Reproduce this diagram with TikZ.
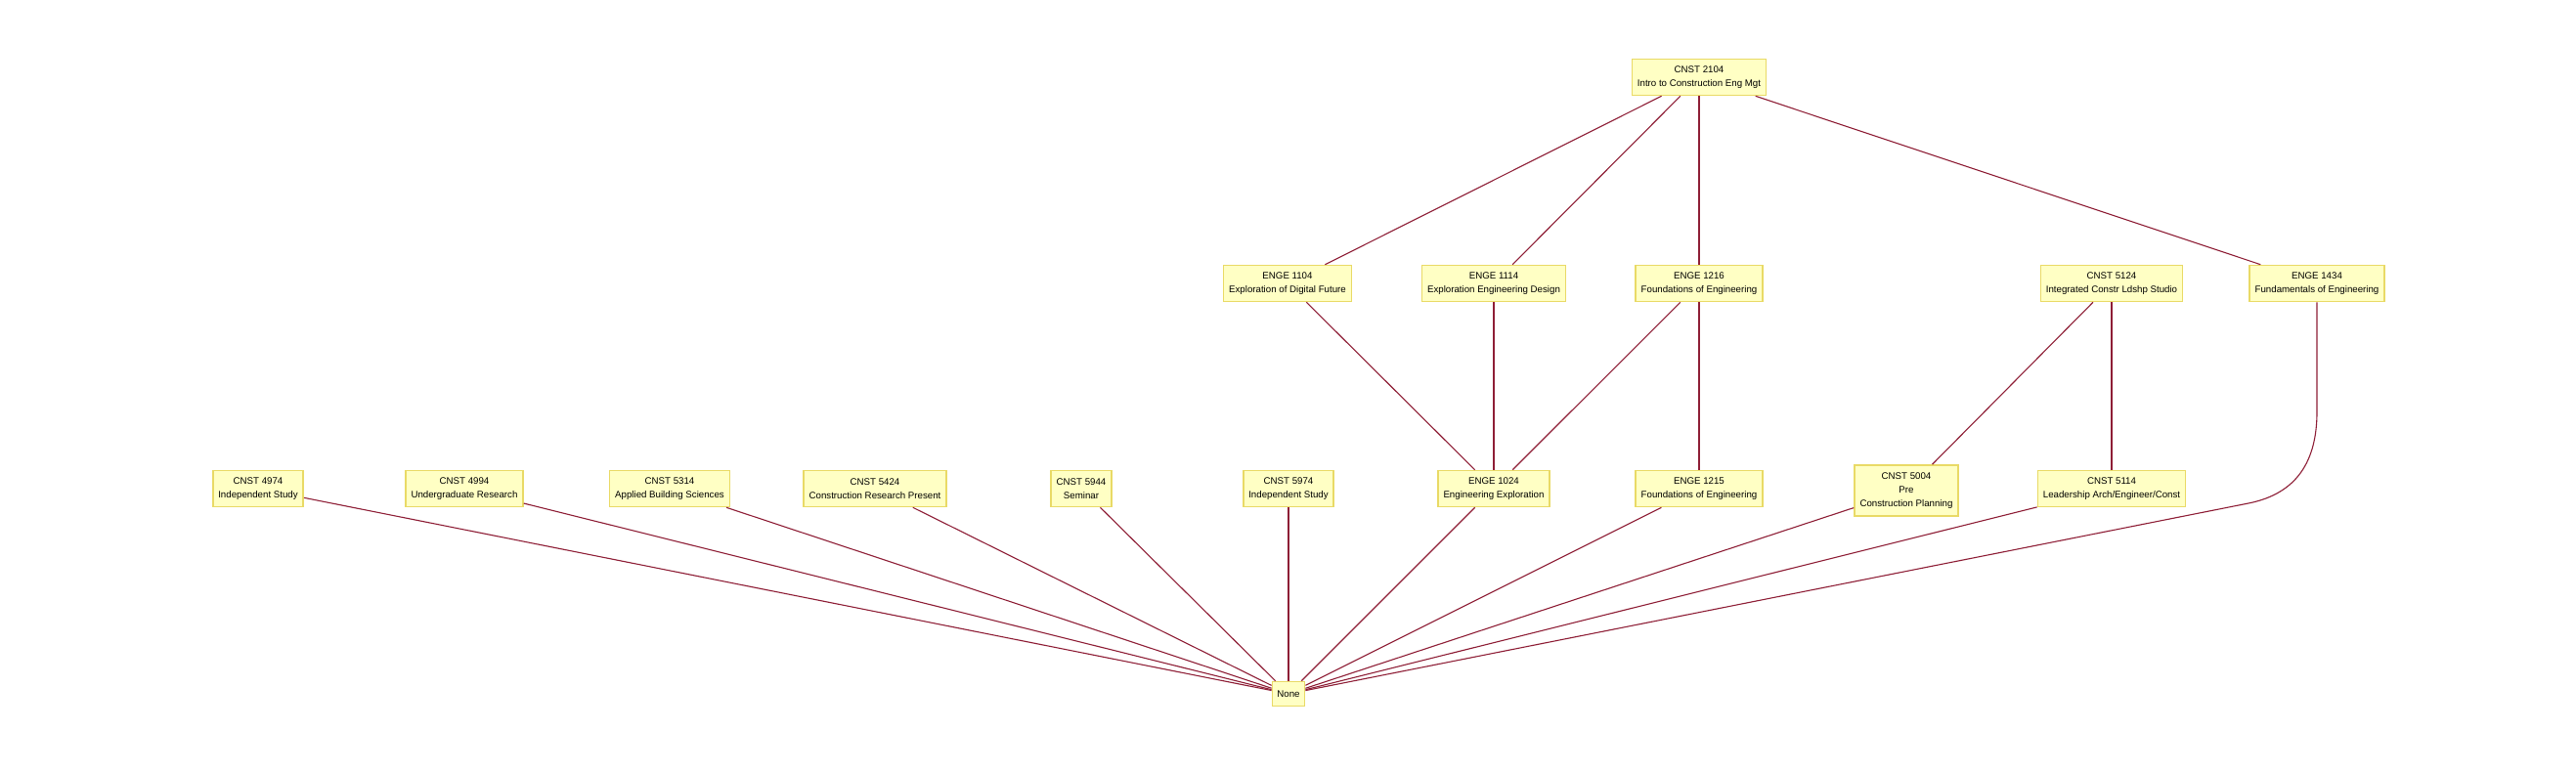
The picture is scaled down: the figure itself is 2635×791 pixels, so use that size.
\documentclass[tikz,border=0pt]{standalone}
\usepackage{fontspec}
\setmainfont{Liberation Sans}
\definecolor{boxfill}{HTML}{FFFFC4}
\definecolor{boxline}{HTML}{E9DA66}
\definecolor{edgecol}{HTML}{8E1E36}
\begin{document}
\begin{tikzpicture}[x=1pt,y=-1pt,
  course/.style={draw=boxline, line width=1.6pt, fill=boxfill, align=center,
    font=\fontsize{9.7}{14}\selectfont, inner xsep=5.5pt, inner ysep=2pt, minimum height=37pt},
  tall/.style={minimum height=52pt},
  small/.style={minimum height=25pt, inner xsep=5pt},
  link/.style={draw=edgecol, line width=1.1pt}]
\useasboundingbox (0,0) rectangle (2635,791);
\fill[white] (0,0) rectangle (2635,791);
% top
\node[course] (c2104) at (1738,79) {CNST 2104\\Intro to Construction Eng Mgt};
% middle row
\node[course] (e1104) at (1317,290) {ENGE 1104\\Exploration of Digital Future};
\node[course] (e1114) at (1528,290) {ENGE 1114\\Exploration Engineering Design};
\node[course] (e1216) at (1738,290) {ENGE 1216\\Foundations of Engineering};
\node[course] (c5124) at (2160,290) {CNST 5124\\Integrated Constr Ldshp Studio};
\node[course] (e1434) at (2370,290) {ENGE 1434\\Fundamentals of Engineering};
% bottom row
\node[course] (c4974) at (264,500) {CNST 4974\\Independent Study};
\node[course] (c4994) at (475,500) {CNST 4994\\Undergraduate Research};
\node[course] (c5314) at (685,500) {CNST 5314\\Applied Building Sciences};
\node[course] (c5424) at (895,500) {CNST 5424\\Construction Research Present};
\node[course] (c5944) at (1106,500) {CNST 5944\\Seminar};
\node[course] (c5974) at (1318,500) {CNST 5974\\Independent Study};
\node[course] (e1024) at (1528,500) {ENGE 1024\\Engineering Exploration};
\node[course] (e1215) at (1738,500) {ENGE 1215\\Foundations of Engineering};
\node[course,tall] (c5004) at (1950,502) {CNST 5004\\Pre\\Construction Planning};
\node[course] (c5114) at (2160,500) {CNST 5114\\Leadership Arch/Engineer/Const};
% sink
\node[course,small] (none) at (1318,710) {None};
% edges
\draw[link] (c2104) -- (e1104);
\draw[link] (c2104) -- (e1114);
\draw[link] (c2104) -- (e1216);
\draw[link] (c2104) -- (e1434);
\draw[link] (e1104) -- (e1024);
\draw[link] (e1114) -- (e1024);
\draw[link] (e1216) -- (e1024);
\draw[link] (e1216) -- (e1215);
\draw[link] (c5124) -- (c5004);
\draw[link] (c5124) -- (c5114);
\draw[link] (c4974) -- (none);
\draw[link] (c4994) -- (none);
\draw[link] (c5314) -- (none);
\draw[link] (c5424) -- (none);
\draw[link] (c5944) -- (none);
\draw[link] (c5974) -- (none);
\draw[link] (e1024) -- (none);
\draw[link] (e1215) -- (none);
\draw[link] (c5004) -- (none);
\draw[link] (c5114) -- (none);
\coordinate (bend) at (2300,515);
\draw[link] (e1434.south) -- ++(0,112) .. controls +(0,50) and (2350,505) .. (bend) -- (none);
\end{tikzpicture}
\end{document}
